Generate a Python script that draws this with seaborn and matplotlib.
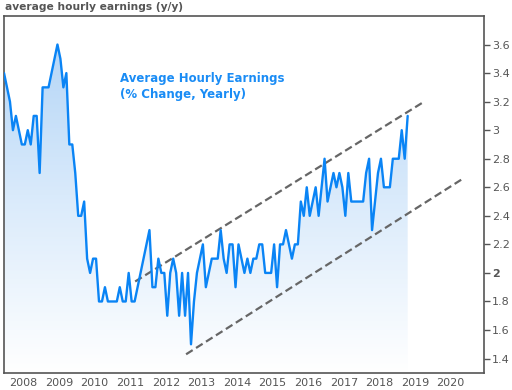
import numpy as np
import pandas as pd
import seaborn as sns
import matplotlib.pyplot as plt
from matplotlib.colors import LinearSegmentedColormap
from matplotlib.patches import PathPatch

# monthly y/y % change, Jun 2007 .. Oct 2018
start_year = 2007.458
ahe = [3.4, 3.3, 3.2, 3.0, 3.1, 3.0, 2.9, 2.9, 3.0, 2.9, 3.1, 3.1, 2.7, 3.3, 3.3, 3.3, 3.4, 3.5, 3.6, 3.5,
       3.3, 3.4, 2.9, 2.9, 2.7, 2.4, 2.4, 2.5, 2.1, 2.0, 2.1, 2.1, 1.8, 1.8, 1.9, 1.8, 1.8, 1.8, 1.8, 1.9,
       1.8, 1.8, 2.0, 1.8, 1.8, 1.9, 2.0, 2.1, 2.2, 2.3, 1.9, 1.9, 2.1, 2.0, 2.0, 1.7, 2.0, 2.1, 2.0, 1.7,
       2.0, 1.7, 2.0, 1.5, 1.8, 2.0, 2.1, 2.2, 1.9, 2.0, 2.1, 2.1, 2.1, 2.3, 2.1, 2.0, 2.2, 2.2, 1.9, 2.2,
       2.1, 2.0, 2.1, 2.0, 2.1, 2.1, 2.2, 2.2, 2.0, 2.0, 2.0, 2.2, 1.9, 2.2, 2.2, 2.3, 2.2, 2.1, 2.2, 2.2,
       2.5, 2.4, 2.6, 2.4, 2.5, 2.6, 2.4, 2.6, 2.8, 2.5, 2.6, 2.7, 2.6, 2.7, 2.6, 2.4, 2.7, 2.5, 2.5, 2.5,
       2.5, 2.5, 2.7, 2.8, 2.3, 2.5, 2.7, 2.8, 2.6, 2.6, 2.6, 2.8, 2.8, 2.8, 3.0, 2.8, 3.1]
years = [start_year + i / 12 for i in range(len(ahe))]

# trend channel (dashed)
upper_x = [2011.14, 2019.19]
upper_y = [1.94, 3.19]
lower_x = [2012.57, 2020.34]
lower_y = [1.43, 2.66]

year_ticks = list(range(2008, 2021))
value_ticks = [1.4, 1.6, 1.8, 2.0, 2.2, 2.4, 2.6, 2.8, 3.0, 3.2, 3.4, 3.6]
xlim = (2007.46, 2020.93)
ylim = (1.3, 3.8)

df = pd.DataFrame({"year": years, "ahe": ahe})

sns.set_style("white")
plt.rcParams["font.family"] = ["DejaVu Sans"]

fig = plt.figure(figsize=(5.12, 3.9), dpi=100)
ax = fig.add_axes([0.008, 0.044, 0.937, 0.915])

# gradient fill under the line
poly = ax.fill_between(df["year"], df["ahe"], ylim[0], color="none", lw=0)
path = poly.get_paths()[0]
grad = np.linspace(0, 1, 256).reshape(-1, 1)
cmap = LinearSegmentedColormap.from_list("g", ["#ffffff", "#d9eafb", "#aed2f6"])
im = ax.imshow(grad, extent=[xlim[0], xlim[1], ylim[0], ylim[1]], origin="lower",
               aspect="auto", cmap=cmap, zorder=1)
clip = PathPatch(path, transform=ax.transData, facecolor="none", edgecolor="none")
ax.add_patch(clip)
im.set_clip_path(clip)

sns.lineplot(data=df, x="year", y="ahe", ax=ax, color="#0a84f5", lw=1.7, zorder=3)

ax.plot(upper_x, upper_y, ls=(0, (3.5, 1.8)), color="#666666", lw=1.6, zorder=2)
ax.plot(lower_x, lower_y, ls=(0, (3.5, 1.8)), color="#666666", lw=1.6, zorder=2)

ax.set_xlim(*xlim)
ax.set_ylim(*ylim)
ax.set_xlabel("")
ax.set_ylabel("")

ax.set_xticks(year_ticks)
ax.set_xticklabels([str(y) for y in year_ticks])
ax.yaxis.tick_right()
ax.set_yticks(value_ticks)
ax.set_yticklabels([f"{v:g}" for v in value_ticks])
for lab in ax.get_yticklabels():
    if lab.get_text() == "2":
        lab.set_fontweight("bold")
ax.tick_params(axis="both", colors="#555555", labelsize=8, length=4, width=1,
               direction="out", pad=2)
ax.tick_params(axis="x", length=3, pad=1)
for s in ax.spines.values():
    s.set_color("#555555")
    s.set_linewidth(1.2)

ax.text(2010.72, 3.41, "Average Hourly Earnings\n(% Change, Yearly)", color="#1a8cf5",
        fontsize=8.5, fontweight="bold", va="top", ha="left", linespacing=1.35, zorder=4)

fig.text(0.01, 0.995, "average hourly earnings (y/y)", color="#555555", fontsize=7.7,
         fontweight="bold", va="top", ha="left")

fig.savefig("out.png", dpi=100)
